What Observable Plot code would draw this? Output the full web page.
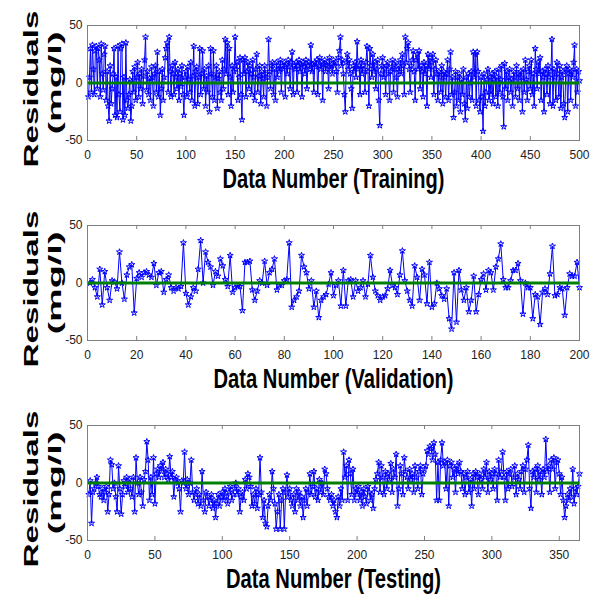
<!DOCTYPE html>
<html><head><meta charset="utf-8">
<script src="https://cdn.jsdelivr.net/npm/d3@7"></script>
<script src="https://cdn.jsdelivr.net/npm/@observablehq/plot@0.6"></script>
<style>
body{margin:0;background:#fff;}
#chart{position:relative;width:595px;height:606px;background:#fff;}
.panel{position:absolute;left:0;}
</style></head><body><div id="chart"></div>
<script>
// Residuals (mg/l), data numbers start at 1
const trainingResiduals = [
-12,5,30,-8,33,12,-10,28,32,-5, 30,20,-12,34,8,-6,25,32,-15,10,
-20,-33,15,-18,-5,8,30,-28,5,-30, 32,-10,-25,30,34,-32,5,-28,35,-15,
-22,-10,3,-33,-20,10,-8,14,-15,5, 18,-12,8,-5,12,-18,6,20,40,-6,
10,-10,4,-15,14,5,-20,8,15,-8, 27,-12,10,-28,-5,12,-15,5,22,30,
35,-8,40,10,-12,15,8,-10,18,5, -5,12,-15,8,-3,15,-10,-28,5,10,
-12,14,3,-8,18,-15,6,32,-20,10, 14,-18,5,30,-10,8,28,-5,12,-20,
6,-8,15,-25,30,8,-12,28,-15,5, 15,-22,4,10,-8,-15,20,-5,12,38,
8,35,-10,30,5,-20,15,-8,10,40, 12,18,-15,5,22,-10,-32,20,8,22,
-12,10,18,-5,15,8,-10,20,5,-15, 12,25,-8,6,15,-18,10,4,-12,15,
8,-20,5,38,10,-5,15,18,-10,12, -15,18,5,15,10,20,-8,15,12,18,
-12,16,8,20,14,-5,18,27,-10,15, 12,18,-8,15,20,10,16,-12,18,14,
8,20,-5,15,18,12,33,10,16,-8, 18,14,20,-10,15,22,12,18,-15,16,
20,10,15,18,-5,22,12,16,8,20, 15,18,10,-8,22,28,40,15,20,8,
-10,-25,18,25,12,20,8,-5,-22,15, 10,18,5,36,12,15,-10,20,8,15,
12,-8,18,32,10,-20,30,15,5,25, 10,18,-5,12,20,-15,-37,8,15,22,
5,12,-10,15,18,8,-15,10,14,20, -8,12,18,5,-12,15,10,20,8,25,
15,-10,40,18,30,35,12,-8,15,20, 28,10,-15,20,25,12,28,-5,15,10,
-12,18,8,15,-20,25,12,22,5,18, 25,-10,12,20,8,-15,10,5,-8,15,
-18,10,5,-12,8,20,-15,12,27,-10, 5,-30,-8,10,-20,5,-15,8,-25,3,
-10,12,-18,-32,5,-22,8,-12,0,10, -15,27,5,25,-20,27,10,-15,-25,5,
-12,-42,8,-20,-8,3,12,-15,5,-10, 8,-18,3,10,-12,5,-20,12,-8,3,
15,-12,-38,17,-5,10,-15,5,12,-8, 3,-20,10,5,-12,15,-5,8,-15,10,
5,-25,12,-8,20,3,-15,10,15,-5, 20,-10,8,-20,30,12,-5,18,8,22,
-15,10,5,-25,12,8,-10,15,5,-18, 10,38,-20,12,5,-15,18,8,-12,15,
-22,5,10,-18,-30,12,15,-25,8,12, -15,10,5,18,33,-20,12,-8,10,2
];
const validationResiduals = [
0,3,-4,-12,12,-19,10,-4,-15,2, 1,-5,27,0,-14,7,14,16,-26,4,
9,5,9,10,7,5,17,-2,9,10, -8,3,7,-4,-7,-4,-5,-3,35,-9,
-19,-12,-4,-7,12,37,0,27,18,14, -2,10,6,21,15,3,-3,24,-8,-4,
-3,-3,-24,18,18,19,-6,-15,-7,2, 0,19,-2,9,12,21,-6,-2,-2,2,
3,35,-21,-15,-12,-7,24,14,9,-5, 2,-21,-7,-30,-15,-12,-10,-1,9,-11,
-2,2,-20,11,-20,2,3,-12,2,-7, -4,2,-12,-1,24,5,-7,-11,-15,-12,
-11,-5,11,-2,-4,-10,7,28,2,-7, -15,-20,15,5,-15,12,7,-18,18,-21,
-18,0,-5,-11,-14,-5,-31,-40,9,-34, 11,-6,-15,-4,-25,-15,6,-25,-10,3,
8,-6,11,9,-6,14,21,34,3,-4, -4,2,11,11,17,2,-27,0,-4,-4,
-31,-10,-12,-36,-8,-5,-10,8,32,-11, -10,-4,-5,-28,-4,8,6,6,18,-4
];
const testingResiduals = [
-10,2,-35,-8,-5,0,5,-3,-10,-12, -5,-15,-8,-3,-25,-10,20,16,-5,0,
-12,-25,15,-5,-27,-10,2,-3,5,-8, 3,-5,-12,5,-25,22,0,-10,5,-8,
-20,3,10,36,20,-15,5,-10,22,-18, 8,12,5,15,10,18,5,12,8,3,
23,5,10,-12,3,5,0,-5,-25,2, 0,27,-5,3,-10,0,20,-8,-15,-10,
-5,-18,-10,-20,10,-15,-25,-8,-12,-20, -15,-10,-22,-15,-30,-18,-10,-20,-12,-8,
-15,-5,-12,-18,-8,-3,-15,-10,-5,0, -10,-5,-25,-12,-8,-15,3,-5,8,5,
-3,-20,-10,-18,-5,-22,-10,22,-8,-30, -15,-35,-38,-20,-10,-15,10,-5,-18,-40,
-25,-10,-40,-15,-5,-40,-8,7,-12,-5, -15,-20,-10,-25,-5,-15,-8,-20,-12,-30,
-15,-5,-20,-8,8,-10,-3,10,-12,-5, -15,3,-8,0,-10,12,8,-5,-12,-15,
-10,-20,-15,-25,-30,-12,-20,-5,-15,27, 5,15,-15,20,8,-10,12,-15,-5,-10,
-3,-15,-8,-20,-5,-12,-18,-3,-8,-15, -10,-22,-5,3,8,18,-8,15,5,-10,
10,-5,8,3,17,-8,12,5,25,-20, -5,15,8,-10,22,10,5,-5,12,3,
8,-8,15,5,-5,10,15,-10,8,12, 15,28,25,32,30,20,35,25,-15,18,
-15,20,35,15,18,-5,20,-20,15,18, 5,12,-8,15,8,18,10,-5,8,-10,
5,10,-8,3,-20,8,-5,10,5,-10, 8,3,-5,12,5,18,-8,10,3,8,
-5,12,8,-15,20,5,10,27,5,-15, 10,-5,8,12,-3,5,15,-10,8,3,
-5,10,15,-8,12,20,33,-5,-22,10, 5,12,-8,15,3,10,-10,12,5,38,
10,15,-8,20,12,22,-5,18,20,8, -10,5,-15,-30,-20,-10,-15,-5,-12,12,
-18,-5,-10,-3,8
];
const panelTitles = ["Data Number (Training)", "Data Number (Validation)", "Data Number (Testing)"];
const xDomains = [[0, 500], [0, 200], [0, 365]];
const xTickValues = [
  [0,50,100,150,200,250,300,350,400,450,500],
  [0,20,40,60,80,100,120,140,160,180,200],
  [0,50,100,150,200,250,300,350]
];
const yTickValues = [-50, 0, 50];
const yLabelTop = "Residuals";
const yLabelBottom = "(mg/l)";
const series = [trainingResiduals, validationResiduals, testingResiduals];

const titleLengths = [222, 240, 215];
const root = document.getElementById("chart");

series.forEach((values, k) => {
  const data = values.map((v, i) => ({n: i + 1, r: v}));
  const ticks = xTickValues[k];
  const svg = Plot.plot({
    width: 595, height: 200,
    marginLeft: 87, marginRight: 16, marginTop: 25, marginBottom: 60,
    style: {fontFamily: "'Liberation Sans', Arial, sans-serif", fontSize: "12px", color: "#222", background: "white"},
    x: {domain: xDomains[k], ticks: ticks, label: null, tickSize: 0, tickPadding: 10},
    y: {domain: [-50, 50], ticks: yTickValues, label: null, tickSize: 0, tickPadding: 5, tickFormat: d => d < 0 ? "-" + Math.abs(d) : String(d)},
    marks: [
      Plot.ruleX(ticks, {x: d => d, y1: -50, y2: -46.5, stroke: "#808080"}),
      Plot.ruleX(ticks, {x: d => d, y1: 50, y2: 46.5, stroke: "#808080"}),
      Plot.line(data, {x: "n", y: "r", stroke: "#0000ff", strokeWidth: 1}),
      Plot.dot(data, {x: "n", y: "r", symbol: "star", r: 1.9, stroke: "#0000ff", fill: "none", strokeWidth: 1}),
      Plot.ruleY([0], {stroke: "#008000", strokeWidth: 3}),
      Plot.frame({stroke: "#808080", strokeWidth: 1}),
      Plot.text([panelTitles[k]], {frameAnchor: "bottom", dy: 47, fontSize: 27, fontWeight: "bold", fill: "black", textAnchor: "middle"}),
      Plot.text([yLabelTop], {frameAnchor: "left", dx: -56, dy: 6, rotate: -90, fontSize: 21, fontWeight: "bold", fill: "black", textAnchor: "middle"}),
      Plot.text([yLabelBottom], {frameAnchor: "left", dx: -33, dy: 0, rotate: -90, fontSize: 19, fontWeight: "bold", fill: "black", textAnchor: "middle"})
    ]
  });
  d3.select(svg).selectAll("text").each(function() {
    const t = this.textContent;
    if (t === panelTitles[k]) { this.setAttribute("textLength", titleLengths[k]); this.setAttribute("lengthAdjust", "spacingAndGlyphs"); }
    if (t === yLabelTop) { this.setAttribute("textLength", 157); this.setAttribute("lengthAdjust", "spacingAndGlyphs"); }
    if (t === yLabelBottom) { this.setAttribute("textLength", 103); this.setAttribute("lengthAdjust", "spacingAndGlyphs"); }
  });
  const div = document.createElement("div");
  div.className = "panel";
  div.style.top = (k * 200) + "px";
  div.appendChild(svg);
  root.appendChild(div);
});
</script></body></html>
